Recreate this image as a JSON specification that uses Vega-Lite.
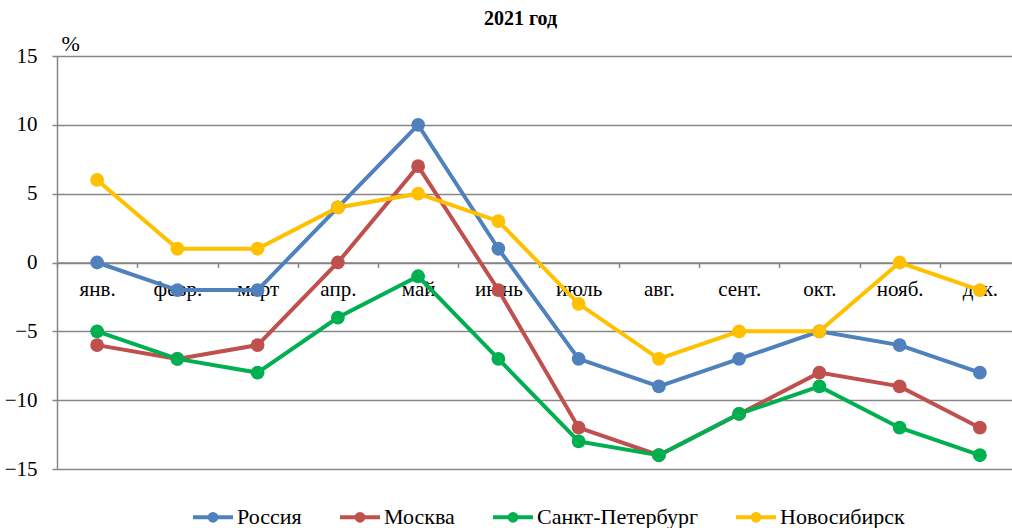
{
  "$schema": "https://vega.github.io/schema/vega-lite/v6.json",
  "width": 963,
  "height": 413,
  "autosize": "none",
  "padding": {"left": 57, "top": 56, "right": 0, "bottom": 59},
  "background": "white",
  "title": {"text": "2021 год", "font": "'Liberation Serif', 'Times New Roman', serif", "fontSize": 20, "fontWeight": "bold", "color": "black", "anchor": "middle", "frame": "group", "dx": -18, "offset": 3},
  "data": {"values": [
    {"m": "янв.", "s": "Россия", "v": 0}, {"m": "февр.", "s": "Россия", "v": -2}, {"m": "март", "s": "Россия", "v": -2}, {"m": "апр.", "s": "Россия", "v": 4}, {"m": "май", "s": "Россия", "v": 10}, {"m": "июнь", "s": "Россия", "v": 1}, {"m": "июль", "s": "Россия", "v": -7}, {"m": "авг.", "s": "Россия", "v": -9}, {"m": "сент.", "s": "Россия", "v": -7}, {"m": "окт.", "s": "Россия", "v": -5}, {"m": "нояб.", "s": "Россия", "v": -6}, {"m": "дек.", "s": "Россия", "v": -8},
    {"m": "янв.", "s": "Москва", "v": -6}, {"m": "февр.", "s": "Москва", "v": -7}, {"m": "март", "s": "Москва", "v": -6}, {"m": "апр.", "s": "Москва", "v": 0}, {"m": "май", "s": "Москва", "v": 7}, {"m": "июнь", "s": "Москва", "v": -2}, {"m": "июль", "s": "Москва", "v": -12}, {"m": "авг.", "s": "Москва", "v": -14}, {"m": "сент.", "s": "Москва", "v": -11}, {"m": "окт.", "s": "Москва", "v": -8}, {"m": "нояб.", "s": "Москва", "v": -9}, {"m": "дек.", "s": "Москва", "v": -12},
    {"m": "янв.", "s": "Санкт-Петербург", "v": -5}, {"m": "февр.", "s": "Санкт-Петербург", "v": -7}, {"m": "март", "s": "Санкт-Петербург", "v": -8}, {"m": "апр.", "s": "Санкт-Петербург", "v": -4}, {"m": "май", "s": "Санкт-Петербург", "v": -1}, {"m": "июнь", "s": "Санкт-Петербург", "v": -7}, {"m": "июль", "s": "Санкт-Петербург", "v": -13}, {"m": "авг.", "s": "Санкт-Петербург", "v": -14}, {"m": "сент.", "s": "Санкт-Петербург", "v": -11}, {"m": "окт.", "s": "Санкт-Петербург", "v": -9}, {"m": "нояб.", "s": "Санкт-Петербург", "v": -12}, {"m": "дек.", "s": "Санкт-Петербург", "v": -14},
    {"m": "янв.", "s": "Новосибирск", "v": 6}, {"m": "февр.", "s": "Новосибирск", "v": 1}, {"m": "март", "s": "Новосибирск", "v": 1}, {"m": "апр.", "s": "Новосибирск", "v": 4}, {"m": "май", "s": "Новосибирск", "v": 5}, {"m": "июнь", "s": "Новосибирск", "v": 3}, {"m": "июль", "s": "Новосибирск", "v": -3}, {"m": "авг.", "s": "Новосибирск", "v": -7}, {"m": "сент.", "s": "Новосибирск", "v": -5}, {"m": "окт.", "s": "Новосибирск", "v": -5}, {"m": "нояб.", "s": "Новосибирск", "v": 0}, {"m": "дек.", "s": "Новосибирск", "v": -2}
  ]},
  "mark": {"type": "line", "strokeWidth": 4, "point": {"filled": true, "size": 190, "opacity": 1}},
  "encoding": {
    "x": {
      "field": "m", "type": "nominal",
      "sort": ["янв.", "февр.", "март", "апр.", "май", "июнь", "июль", "авг.", "сент.", "окт.", "нояб.", "дек."],
      "scale": {"type": "band", "paddingInner": 0, "paddingOuter": 0},
      "axis": {"title": null, "orient": "bottom", "offset": -206.5, "labelAngle": 0, "tickBand": "extent", "tickSize": 5, "tickColor": "#868686", "tickWidth": 1.5, "domainColor": "#868686", "domainWidth": 1.5, "labelFont": "'Liberation Serif', 'Times New Roman', serif", "labelFontSize": 21, "labelColor": "black", "labelPadding": 11, "grid": false, "zindex": 0}
    },
    "y": {
      "field": "v", "type": "quantitative",
      "scale": {"domain": [-15, 15], "nice": false, "zero": false},
      "axis": {"values": [-15, -10, -5, 0, 5, 10, 15], "grid": true, "gridColor": "#868686", "gridWidth": 1.5, "gridOpacity": 1, "domainColor": "#868686", "domainWidth": 1.5, "tickColor": "#868686", "tickWidth": 1.5, "tickSize": 5, "labelFont": "'Liberation Serif', 'Times New Roman', serif", "labelFontSize": 21, "labelColor": "black", "labelPadding": 15,
        "title": "%", "titleAngle": 0, "titleX": 4, "titleY": -6, "titleAlign": "left", "titleBaseline": "alphabetic", "titleFont": "'Liberation Serif', 'Times New Roman', serif", "titleFontSize": 22, "titleFontWeight": "normal", "titleColor": "black"}
    },
    "color": {
      "field": "s", "type": "nominal",
      "scale": {"domain": ["Россия", "Москва", "Санкт-Петербург", "Новосибирск"], "range": ["#4F81BD", "#C0504D", "#00B050", "#FFC000"]},
      "legend": {"title": null, "orient": "none", "direction": "horizontal", "legendX": 134, "legendY": 439,
        "symbolType": "M-1,0H1M-0.17,0A0.17,0.17 0 1,1 0.17,0A0.17,0.17 0 1,1 -0.17,0",
        "symbolSize": 1600, "symbolStrokeWidth": 4, "labelFont": "'Liberation Serif', 'Times New Roman', serif", "labelFontSize": 22, "labelColor": "black", "labelOffset": 2, "labelLimit": 400, "columnPadding": 30}
    }
  },
  "config": {"view": {"stroke": null}}
}
